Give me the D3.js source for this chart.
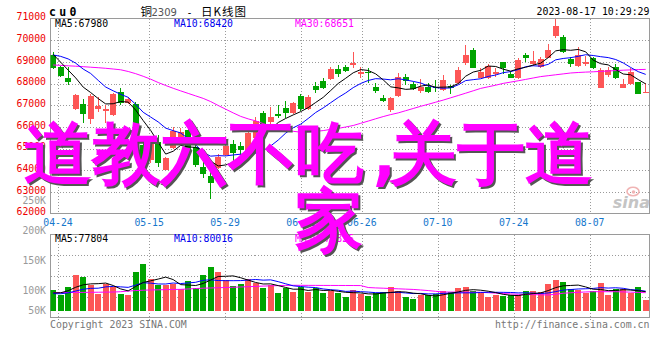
<!DOCTYPE html>
<html>
<head>
<meta charset="utf-8">
<script src="https://cdn.jsdelivr.net/npm/d3@7"></script>
<style>
  html, body { margin: 0; padding: 0; background: #fff; }
  svg { display: block; }
  text { font-family: "DejaVu Sans Mono", monospace; }
</style>
</head>
<body>
<svg id="chart" width="660" height="360"></svg>
<script>
// ---- daily K-line data, cu2309 ----
const dates = [
  "04-21","04-24","04-25","04-26","04-27","04-28","05-04","05-05","05-08","05-09",
  "05-10","05-11","05-12","05-15","05-16","05-17","05-18","05-19","05-22","05-23",
  "05-24","05-25","05-26","05-29","05-30","05-31","06-01","06-02","06-05","06-06",
  "06-07","06-08","06-09","06-12","06-13","06-14","06-15","06-16","06-19","06-20",
  "06-21","06-26","06-27","06-28","06-29","06-30","07-03","07-04","07-05","07-06",
  "07-07","07-10","07-11","07-12","07-13","07-14","07-17","07-18","07-19","07-20",
  "07-21","07-24","07-25","07-26","07-27","07-28","07-31","08-01","08-02","08-03",
  "08-04","08-07","08-08","08-09","08-10","08-11","08-14","08-15","08-16","08-17"
];
const opens = [
  69320,68750,68250,66820,67050,66360,66820,66800,66550,67610,
  67120,67040,65150,64450,65320,64010,65020,65440,65850,65080,
  64160,63750,64110,64700,65190,65120,64730,65470,66650,66240,
  66590,66860,66630,67420,66810,67900,68120,68210,68670,68750,
  68850,68430,68550,67850,67350,66780,67440,68310,67960,67670,
  67850,67850,67700,67890,68010,68930,69550,68270,68270,68440,
  68980,68440,68270,69320,68890,68780,69190,70210,70160,69130,
  68820,68920,69190,67810,68390,68780,67810,67960,68060,67580
];
const highs = [
  69450,68820,68740,67520,67290,67530,67380,67030,67540,67810,
  67380,67130,65250,65350,65620,64620,66010,65950,66040,65440,
  64440,64010,64750,65240,65390,65290,65930,66450,66730,66930,
  67010,67190,67150,67520,67470,68080,68270,68780,68850,68850,
  69440,68780,68730,68010,67470,67400,68470,68430,68080,68190,
  68010,68160,68390,67930,68780,69780,69630,68730,68900,68730,
  69010,68580,69160,69420,69500,69240,69820,70980,70240,69240,
  69670,69270,69240,68700,68780,68890,68210,68700,68080,68010
];
const lows = [
  68660,68300,67930,66780,66200,66110,66700,66200,66500,67010,
  67050,65050,64300,64350,64160,63990,64980,65350,64790,64150,
  63630,62690,64050,64650,64440,64650,64700,65390,65990,66090,
  66390,66390,66590,66750,66780,67550,67750,68160,68310,68520,
  68700,68240,68010,67550,67160,66700,67400,67930,67700,67550,
  67550,67620,67650,67520,67960,68850,68700,68240,68210,68310,
  68430,68240,68210,69010,68820,68700,69160,70090,69390,68780,
  68780,68820,68670,67780,68290,68210,67780,67930,67500,67550
];
const closes = [
  68700,68360,68070,67470,66570,67440,66980,66820,67520,67090,
  67290,65150,64390,65250,64340,64580,65810,65750,64890,64220,
  63820,63420,64620,65130,64780,64930,65700,66270,66050,66470,
  66510,66630,67090,66810,67390,67700,67810,68670,68440,68590,
  68960,68550,68470,67650,67210,67350,68310,68130,67750,67850,
  67620,67780,68160,67810,68620,69320,68730,68550,68810,68520,
  68700,68270,69090,69160,69040,69130,69550,70650,69440,68890,
  69330,69000,68730,68620,68620,68240,67980,68550,67520,67610
];
// closes of the nine sessions before 04-21 (feed the MA5 / MA10 start)
const priorCloses = [69000,69250,69420,69300,69480,70160,69890,69270,68690];
// 30-day average of the close
const ma30Price = [
  68854,68836,68817,68799,68776,68752,68729,68702,68669,68633,
  68554,68453,68333,68199,68046,67908,67779,67659,67543,67428,
  67313,67165,66985,66814,66643,66482,66367,66274,66150,66030,
  65933,65850,65794,65753,65757,65790,65827,65882,65928,65993,
  66062,66163,66265,66371,66473,66565,66643,66745,66846,66948,
  67040,67137,67234,67340,67446,67553,67663,67774,67848,67922,
  68005,68065,68125,68189,68254,68319,68360,68402,68443,68485,
  68508,68526,68540,68559,68577,68596,68614,68628,68642,68651
];
const volumes = [
  84800,64300,97100,146300,138100,104100,68400,109400,95900,68400,
  64300,158600,191400,129900,104100,104100,108200,87700,121700,94300,
  146300,179100,159800,125800,102500,108200,129900,112300,94300,105300,
  72500,91800,76600,95900,77900,91800,72500,81000,73800,57400,
  84800,67200,61500,71300,76600,97100,82000,56100,48000,64300,
  64300,68400,82000,76600,93000,97100,82000,71300,56100,64300,
  61500,63100,64300,80700,80700,76600,109400,125800,117600,87700,
  84500,71300,79040,112000,64300,87700,87700,71300,98420,43900
];
const priorVolumes = [70000,60000,72000,65000,66900,62800,55000,76000,87500];
const ma30Volume = [
  73900,74200,74400,74700,75000,75400,75700,76100,76400,77900,
  80400,82500,83900,85000,85600,86300,86900,87500,89000,90800,
  92200,93200,94100,95100,96000,97200,98400,99600,100900,101900,
  102800,103600,104100,104000,103800,103700,103600,103500,103400,103300,
  103200,103000,95000,93400,92200,90900,89700,88400,87200,84900,
  82500,79500,76500,76400,76100,75900,75600,75300,73700,72000,
  70400,68700,67100,66500,65800,65200,64600,67200,71600,73500,
  75200,76800,77900,77900,77900,77900,77000,76000,75000,73826
];
const priceTicks = [62000,63000,64000,65000,66000,67000,68000,69000,70000,71000];
const volumeTicks = [50000,100000,150000,200000,250000];
const volumeTickLabels = ["50K","100K","150K","200K","250K"];
const dateTicks = ["04-24","05-15","05-29","06-12","06-26","07-10","07-24","08-07"];

// ---- helpers ----
function movingAverage(values, prior, n) {
  const all = prior.concat(values);
  const off = prior.length;
  return values.map((_, i) => d3.mean(all.slice(off + i - n + 1, off + i + 1)));
}
const ma5Price = movingAverage(closes, priorCloses, 5);
const ma10Price = movingAverage(closes, priorCloses, 10);
const ma5Volume = movingAverage(volumes, priorVolumes, 5);
const ma10Volume = movingAverage(volumes, priorVolumes, 10);

const RED = "#fd5656", GREEN = "#00a400";
const GRID = "#9a9a9a", FRAME = "#9a9a9a";

const svg = d3.select("#chart");
const main = { left: 50.5, right: 649.5, top: 18.5, bottom: 213.5 };
const vol = { top: 234.5, bottom: 317.5, base: 310.7 };

const x = d3.scaleBand().domain(dates).range([49.45, 649.45])
  .paddingInner(0.24).paddingOuter(0.12);
const cx = d => x(d) + x.bandwidth() / 2;
const y = d3.scaleLinear().domain([62000, 71000]).range([main.bottom, main.top]);
const yVol = d3.scaleLinear().domain([0, 300000]).range([vol.base, vol.base - 73.2]);
const yVolLabel = d3.scaleLinear().domain([100000, 250000]).range([290, 200.75]);
const gridX = d3.scaleLinear().domain([1, 71]).range([58, 589.7]);
const px = v => Math.round(v) + 0.5;

const defs = svg.append("defs");
defs.append("clipPath").attr("id", "clipMain").append("rect")
  .attr("x", main.left).attr("y", main.top)
  .attr("width", main.right - main.left).attr("height", main.bottom - main.top);
defs.append("clipPath").attr("id", "clipVol").append("rect")
  .attr("x", main.left).attr("y", vol.top)
  .attr("width", main.right - main.left).attr("height", vol.bottom - vol.top);

// ---- grid ----
const grid = svg.append("g").attr("stroke", GRID).attr("stroke-dasharray", "1,2")
  .attr("shape-rendering", "crispEdges");
priceTicks.filter(v => v > 62000 && v < 71000).forEach(v => {
  grid.append("line").attr("x1", main.left).attr("x2", main.right)
    .attr("y1", px(y(v))).attr("y2", px(y(v)));
});
d3.range(1, 4).forEach(k => {
  const yy = px(vol.top + k * (vol.bottom - vol.top) / 4);
  grid.append("line").attr("x1", main.left).attr("x2", main.right).attr("y1", yy).attr("y2", yy);
});
dateTicks.forEach(d => {
  const gx = px(gridX(dates.indexOf(d)));
  grid.append("line").attr("x1", gx).attr("x2", gx).attr("y1", main.top).attr("y2", main.bottom);
  grid.append("line").attr("x1", gx).attr("x2", gx).attr("y1", vol.top).attr("y2", vol.bottom + 4);
});

// ---- frames ----
svg.append("rect").attr("x", main.left).attr("y", main.top)
  .attr("width", main.right - main.left).attr("height", main.bottom - main.top)
  .attr("fill", "none").attr("stroke", FRAME).attr("shape-rendering", "crispEdges");
svg.append("rect").attr("x", main.left).attr("y", vol.top)
  .attr("width", main.right - main.left).attr("height", vol.bottom - vol.top)
  .attr("fill", "none").attr("stroke", FRAME).attr("shape-rendering", "crispEdges");

// ---- candles ----
const candles = svg.append("g").attr("clip-path", "url(#clipMain)")
  .attr("shape-rendering", "crispEdges");
const cData = dates.map((d, i) => ({ d, o: opens[i], h: highs[i], l: lows[i], c: closes[i] }));
candles.selectAll("line.wick").data(cData).join("line")
  .attr("x1", d => Math.floor(cx(d.d)) + 0.5).attr("x2", d => Math.floor(cx(d.d)) + 0.5)
  .attr("y1", d => y(d.h)).attr("y2", d => y(d.l))
  .attr("stroke", d => d.c >= d.o ? RED : GREEN);
candles.selectAll("rect.body").data(cData).join("rect")
  .attr("x", d => x(d.d)).attr("width", x.bandwidth())
  .attr("y", d => y(Math.max(d.o, d.c)))
  .attr("height", d => Math.max(1.5, Math.abs(y(d.o) - y(d.c))))
  .attr("fill", d => d.c >= d.o ? RED : GREEN);

// ---- price moving averages ----
const priceLine = d3.line().x((v, i) => cx(dates[i])).y(v => y(v));
const maMain = svg.append("g").attr("clip-path", "url(#clipMain)").attr("fill", "none");
[[ma30Price, "#ff00ff"], [ma10Price, "#0000ff"], [ma5Price, "#000000"]].forEach(([s, c]) => {
  maMain.append("path").attr("d", priceLine(s)).attr("stroke", c).attr("stroke-width", 1);
});

// ---- volume bars ----
const volG = svg.append("g").attr("clip-path", "url(#clipVol)").attr("shape-rendering", "crispEdges");
volG.selectAll("rect").data(dates).join("rect")
  .attr("x", d => x(d)).attr("width", x.bandwidth())
  .attr("y", (d, i) => yVol(volumes[i]))
  .attr("height", (d, i) => yVol(0) - yVol(volumes[i]))
  .attr("fill", (d, i) => closes[i] >= opens[i] ? RED : GREEN);

const volLine = d3.line().x((v, i) => cx(dates[i])).y(v => yVol(v));
const maVol = svg.append("g").attr("clip-path", "url(#clipVol)").attr("fill", "none");
[[ma30Volume, "#ff00ff"], [ma10Volume, "#0000ff"], [ma5Volume, "#000000"]].forEach(([s, c]) => {
  maVol.append("path").attr("d", volLine(s)).attr("stroke", c).attr("stroke-width", 1);
});

// ---- axes labels ----
const fs = "9.8px";
svg.append("g").selectAll("text").data(priceTicks).join("text")
  .attr("x", 46).attr("y", v => y(v) + 1.8).attr("text-anchor", "end")
  .attr("fill", "#ee0000").style("font-size", fs).text(v => v);
svg.append("g").selectAll("text").data(volumeTicks).join("text")
  .attr("x", 46).attr("y", v => Math.min(yVolLabel(v), 310) + 3.6).attr("text-anchor", "end")
  .attr("fill", "#999").style("font-size", fs).text((v, i) => volumeTickLabels[i]);
svg.append("g").selectAll("text").data(dateTicks).join("text")
  .attr("x", d => gridX(dates.indexOf(d))).attr("y", 225.5).attr("text-anchor", "middle")
  .attr("fill", "#1677cc").style("font-size", fs).text(d => d);

// ---- legends ----
const last = a => a[a.length - 1];
const legend = (yy, vals) => {
  const items = [["MA5", vals[0], "#000", 55], ["MA10", vals[1], "#0000ee", 174], ["MA30", vals[2], "#ff00ff", 295]];
  items.forEach(([n, v, c, lx]) => svg.append("text").attr("x", lx).attr("y", yy)
    .attr("fill", c).style("font-size", fs).text(`${n}:${Math.round(v)}`));
};
legend(27, [last(ma5Price), last(ma10Price), last(ma30Price)]);
legend(241.5, [last(ma5Volume), last(ma10Volume), last(ma30Volume)]);

// ---- titles ----
svg.append("text").attr("x", 49).attr("y", 15.5).style("font-size", "11.5px")
  .style("font-weight", "bold").style("letter-spacing", "3.3px").text("cu0");
svg.append("text").attr("x", 140.5).attr("y", 15.5)
  .style("font-family", "'Noto Sans CJK SC'").style("font-size", "11.5px").text("铜");
svg.append("text").attr("x", 151.5).attr("y", 15.5).attr("fill", "#555")
  .style("font-family", "'DejaVu Sans'").style("font-size", "10px").text("2309");
svg.append("text").attr("x", 186.5).attr("y", 15.5).style("font-size", "10px").text("-");
svg.append("text").attr("x", 201).attr("y", 15.5)
  .style("font-family", "'Noto Sans CJK SC'").style("font-size", "11.5px")
  .style("letter-spacing", "1px").text("日K线图");
svg.append("text").attr("x", 649.5).attr("y", 15).attr("text-anchor", "end")
  .style("font-size", "9.9px").text("2023-08-17 10:29:29");

svg.append("text").attr("x", 50).attr("y", 327.5).attr("fill", "#777")
  .style("font-size", "9.9px").text("Copyright 2023 SINA.COM");
svg.append("text").attr("x", 649.5).attr("y", 327.5).attr("text-anchor", "end").attr("fill", "#777")
  .style("font-size", "9.9px").text("http://finance.sina.com.cn");

// ---- sina mark ----
const mark = svg.append("g");
mark.append("ellipse").attr("cx", 633).attr("cy", 191.5).attr("rx", 6).attr("ry", 4.2)
  .attr("fill", "none").attr("stroke", "#f0b4b4").attr("stroke-width", 1.6);
mark.append("circle").attr("cx", 633.5).attr("cy", 192).attr("r", 1.8).attr("fill", "#f0b4b4");
mark.append("text").attr("x", 650).attr("y", 207.5).attr("text-anchor", "end")
  .attr("fill", "#c4c4c4").style("font-family", "'DejaVu Sans'").style("font-style", "italic")
  .style("font-weight", "bold").style("font-size", "16px").text("sina");

// ---- headline overlay ----
const headline = [
  { text: "道教六不吃,", x: 24, y: 177 },
  { text: "关于道", x: 389, y: 177 },
  { text: "家", x: 295, y: 244 }
];
const over = svg.append("g").style("font-family", "'Noto Sans CJK SC'")
  .style("font-size", "68px").style("font-weight", "bold");
headline.forEach(h => {
  over.append("text").attr("x", h.x + 2).attr("y", h.y + 2).attr("fill", "#555").text(h.text);
});
headline.forEach(h => {
  over.append("text").attr("x", h.x).attr("y", h.y).attr("fill", "#ff00ff").text(h.text);
});
</script>
</body>
</html>
